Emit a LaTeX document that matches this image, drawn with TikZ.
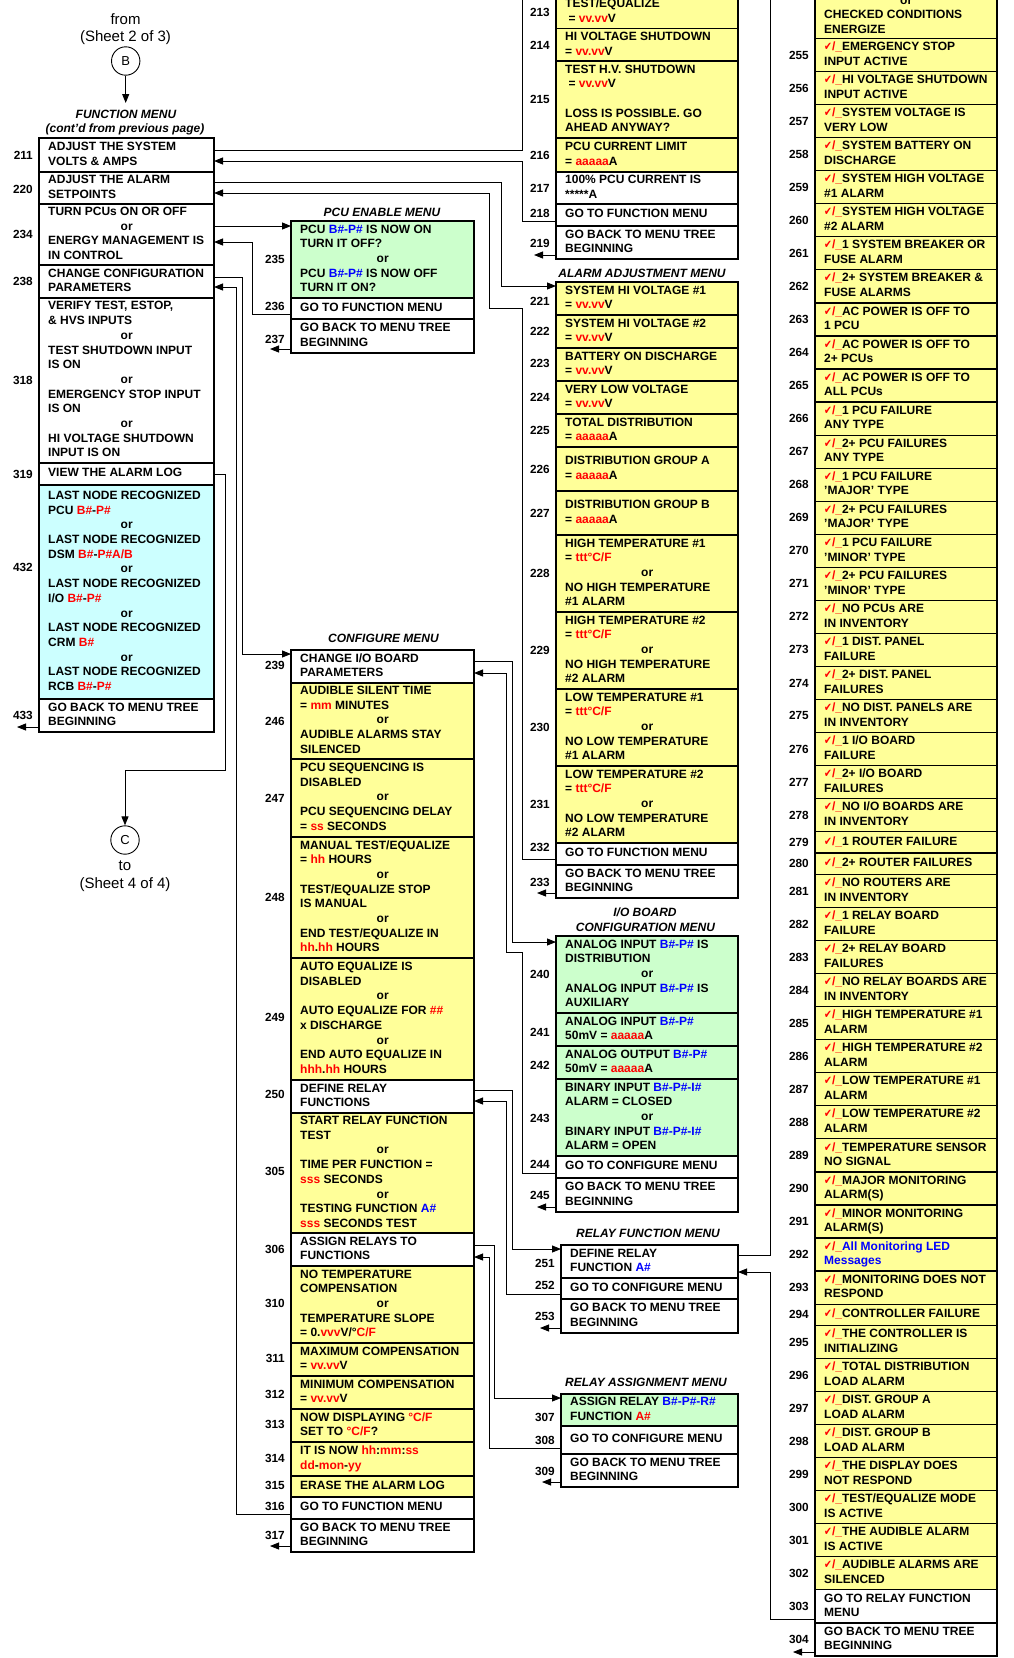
\documentclass[tikz,border=0pt]{standalone}
\usepackage{fontspec}
\setmainfont{Liberation Sans}
\newfontfamily\ckfam{DejaVu Sans}
\usetikzlibrary{arrows.meta}
\definecolor{ylw}{RGB}{255,255,153}
\definecolor{grn}{RGB}{204,255,204}
\definecolor{cyn}{RGB}{204,255,255}
\definecolor{txred}{RGB}{255,0,0}
\definecolor{txblue}{RGB}{0,0,255}
\newlength\orw
\newcommand\orl{\makebox[\orw][c]{or}}
\newcommand\txr[1]{\textcolor{txred}{#1}}
\newcommand\txb[1]{\textcolor{txblue}{#1}}
\newcommand\ck{{\color{txred}\scalebox{0.85}[1.05]{\ckfam\bfseries\fontsize{11}{14.7}\selectfont\char"2714}/\_}}
\newcommand\txtfont{\bfseries\fontsize{12}{14.7}\selectfont}
\newcommand\lblfont{\bfseries\fontsize{11.8}{14}\selectfont}
\newcommand\ttlfont{\bfseries\itshape\fontsize{12}{14}\selectfont}
\newcommand\shtfont{\fontsize{15}{18}\selectfont}
\tikzset{
  rowbox/.style={draw=black, line width=1.15pt, inner sep=0pt, outer sep=0pt},
  rowtxt/.style={anchor=west, align=left, inner sep=0pt, font=\txtfont},
  lbl/.style={anchor=east, inner sep=0pt, font=\lblfont},
  ttl/.style={anchor=base, inner sep=0pt, font=\ttlfont},
  sht/.style={anchor=base, inner sep=0pt, font=\shtfont},
  conn/.style={draw=black, line width=0.9pt},
  arr/.style={conn, -{Triangle[length=9pt,width=7pt]}},
  sheetcirc/.style={circle, draw=black, line width=0.9pt, minimum size=28.4pt, inner sep=0pt, font=\fontsize{13}{14}\selectfont},
}
% \mrow{name}{x1}{y1}{x2}{y2}{fill}{label}{label y}{text}
\newcommand\mrow[9]{%
  \setlength\orw{\dimexpr #4pt-#2pt-18pt\relax}%
  \node[rowbox, fill=#6, minimum width={(#4)-(#2)}, minimum height={(#5)-(#3)}, anchor=north west] (#1) at (#2,#3) {};
  \node[rowtxt] (#1t) at ({#2+9},{((#3)+(#5))/2}) {\strut #9\strut};
  \node[lbl] (#1n) at ({#2-6},{#8}) {#7};
}
\newcommand\rrow[4]{\mrow{r#1}{815}{#2}{997}{#3}{ylw}{#1}{((#2)+(#3))/2}{\ck#4}}
\begin{document}
\begin{tikzpicture}[x=1pt,y=-1pt]
\useasboundingbox (0,0) rectangle (1013,1658);
\clip (0,0) rectangle (1013,1658);
\fill[white] (0,0) rectangle (1013,1658);

% ---------- sheet references and titles ----------
\coordinate (fmtop) at (125.7,103);
\node[sheetcirc] (cB) at (125.7,61) {B};
\node[sheetcirc] (cC) at (125,840) {C};
\node[sht] (from) at (125.5,24.5) {from};
\node[sht] (sh2) at (125.5,41.5) {(Sheet 2 of 3)};
\node[sht] (to) at (125,870.5) {to};
\node[sht] (sh4) at (125,888.5) {(Sheet 4 of 4)};
\draw[arr] (cB.south) -- (fmtop);

\node[ttl] (tfm) at (126,118.3) {FUNCTION MENU};
\node[ttl] (tfm2) at (125,132) {(cont'd from previous page)};
\node[ttl] (tpcu) at (382,216) {PCU ENABLE MENU};
\node[ttl] (tcfg) at (383.5,642.7) {CONFIGURE MENU};
\node[ttl] (talm) at (642,277) {ALARM ADJUSTMENT MENU};
\node[ttl] (tio1) at (645,916.7) {I/O BOARD};
\node[ttl] (tio2) at (645.5,931) {CONFIGURATION MENU};
\node[ttl] (trf) at (648,1237) {RELAY FUNCTION MENU};
\node[ttl] (tra) at (646,1386) {RELAY ASSIGNMENT MENU};

% ---------- column 1: function menu ----------
\mrow{r211}{39}{138}{214}{172}{white}{211}{155}{ADJUST THE SYSTEM\\VOLTS \& AMPS}
\mrow{r220}{39}{172}{214}{204}{white}{220}{189}{ADJUST THE ALARM\\SETPOINTS}
\mrow{r234}{39}{204}{214}{265}{white}{234}{234}{TURN PCUs ON OR OFF\\\orl\\ENERGY MANAGEMENT IS\\IN CONTROL}
\mrow{r238}{39}{265}{214}{298}{white}{238}{281}{CHANGE CONFIGURATION\\PARAMETERS}
\mrow{r318}{39}{298}{214}{463}{white}{318}{380}{VERIFY TEST, ESTOP,\\\& HVS INPUTS\\\orl\\TEST SHUTDOWN INPUT\\IS ON\\\orl\\EMERGENCY STOP INPUT\\IS ON\\\orl\\HI VOLTAGE SHUTDOWN\\INPUT IS ON}
\mrow{r319}{39}{463}{214}{485}{white}{319}{474}{VIEW THE ALARM LOG}
\mrow{r432}{39}{485}{214}{699}{cyn}{432}{567}{LAST NODE RECOGNIZED\\PCU \txr{B\#}-\txr{P\#}\\\orl\\LAST NODE RECOGNIZED\\DSM \txr{B\#}-\txr{P\#A/B}\\\orl\\LAST NODE RECOGNIZED\\I/O \txr{B\#}-\txr{P\#}\\\orl\\LAST NODE RECOGNIZED\\CRM \txr{B\#}\\\orl\\LAST NODE RECOGNIZED\\RCB \txr{B\#}-\txr{P\#}}
\mrow{r433}{39}{699}{214}{732}{white}{433}{715}{GO BACK TO MENU TREE\\BEGINNING}

% ---------- column 2: PCU enable / configure ----------
\mrow{r235}{291}{221}{474}{298}{grn}{235}{259}{PCU \txb{B\#-P\#} IS NOW ON\\TURN IT OFF?\\\orl\\PCU \txb{B\#-P\#} IS NOW OFF\\TURN IT ON?}
\mrow{r236}{291}{298}{474}{319}{white}{236}{306}{GO TO FUNCTION MENU}
\mrow{r237}{291}{319}{474}{353}{white}{237}{339}{GO BACK TO MENU TREE\\BEGINNING}

\mrow{r239}{291}{650}{474}{683}{white}{239}{665}{CHANGE I/O BOARD\\PARAMETERS}
\mrow{r246}{291}{683}{474}{759}{ylw}{246}{721}{AUDIBLE SILENT TIME\\= \txr{mm} MINUTES\\\orl\\AUDIBLE ALARMS STAY\\SILENCED}
\mrow{r247}{291}{759}{474}{837}{ylw}{247}{798}{PCU SEQUENCING IS\\DISABLED\\\orl\\PCU SEQUENCING DELAY\\= \txr{ss} SECONDS}
\mrow{r248}{291}{837}{474}{958}{ylw}{248}{897}{MANUAL TEST/EQUALIZE\\= \txr{hh} HOURS\\\orl\\TEST/EQUALIZE STOP\\IS MANUAL\\\orl\\END TEST/EQUALIZE IN\\\txr{hh}.\txr{hh} HOURS}
\mrow{r249}{291}{958}{474}{1080}{ylw}{249}{1017}{AUTO EQUALIZE IS\\DISABLED\\\orl\\AUTO EQUALIZE FOR \txr{\#\#}\\x DISCHARGE\\\orl\\END AUTO EQUALIZE IN\\\txr{hhh}.\txr{hh} HOURS}
\mrow{r250}{291}{1080}{474}{1113}{white}{250}{1094}{DEFINE RELAY\\FUNCTIONS}
\mrow{r305}{291}{1113}{474}{1233}{ylw}{305}{1171}{START RELAY FUNCTION\\TEST\\\orl\\TIME PER FUNCTION =\\\txr{sss} SECONDS\\\orl\\TESTING FUNCTION \txb{A\#}\\\txr{sss} SECONDS TEST}
\mrow{r306}{291}{1233}{474}{1266}{white}{306}{1249}{ASSIGN RELAYS TO\\FUNCTIONS}
\mrow{r310}{291}{1266}{474}{1343}{ylw}{310}{1303}{NO TEMPERATURE\\COMPENSATION\\\orl\\TEMPERATURE SLOPE\\= 0.\txr{vvv}V/°\txr{C/F}}
\mrow{r311}{291}{1343}{474}{1376}{ylw}{311}{1358}{MAXIMUM COMPENSATION\\= \txr{vv.vv}V}
\mrow{r312}{291}{1376}{474}{1409}{ylw}{312}{1394}{MINIMUM COMPENSATION\\= \txr{vv.vv}V}
\mrow{r313}{291}{1409}{474}{1442}{ylw}{313}{1424}{NOW DISPLAYING \txr{°C/F}\\SET TO \txr{°C/F}?}
\mrow{r314}{291}{1442}{474}{1476}{ylw}{314}{1458}{IT IS NOW \txr{hh}:\txr{mm}:\txr{ss}\\\txr{dd}-\txr{mon}-\txr{yy}}
\mrow{r315}{291}{1476}{474}{1497}{ylw}{315}{1485}{ERASE THE ALARM LOG}
\mrow{r316}{291}{1497}{474}{1519}{white}{316}{1506}{GO TO FUNCTION MENU}
\mrow{r317}{291}{1519}{474}{1552}{white}{317}{1535}{GO BACK TO MENU TREE\\BEGINNING}

% ---------- column 3 ----------
\mrow{r213}{556}{-4.4}{738}{28.6}{ylw}{213}{12}{TEST/EQUALIZE\\\hspace{3.3pt}= \txr{vv.vv}V}
\mrow{r214}{556}{28.6}{738}{61}{ylw}{214}{45}{HI VOLTAGE SHUTDOWN\\= \txr{vv.vv}V}
\mrow{r215}{556}{61}{738}{138}{ylw}{215}{99}{TEST H.V. SHUTDOWN\\\hspace{3.3pt}= \txr{vv.vv}V\\~\\LOSS IS POSSIBLE. GO\\AHEAD ANYWAY?}
\mrow{r216}{556}{138}{738}{172}{ylw}{216}{155}{PCU CURRENT LIMIT\\= \txr{aaaaa}A}
\mrow{r217}{556}{172}{738}{204}{white}{217}{188}{100\% PCU CURRENT IS\\*****A}
\mrow{r218}{556}{204}{738}{226}{white}{218}{213}{GO TO FUNCTION MENU}
\mrow{r219}{556}{226}{738}{259}{white}{219}{243}{GO BACK TO MENU TREE\\BEGINNING}

\mrow{r221}{556}{282}{738}{315}{ylw}{221}{301}{SYSTEM HI VOLTAGE \#1\\= \txr{vv.vv}V}
\mrow{r222}{556}{315}{738}{348}{ylw}{222}{331}{SYSTEM HI VOLTAGE \#2\\= \txr{vv.vv}V}
\mrow{r223}{556}{348}{738}{381}{ylw}{223}{363}{BATTERY ON DISCHARGE\\= \txr{vv.vv}V}
\mrow{r224}{556}{381}{738}{414}{ylw}{224}{397}{VERY LOW VOLTAGE\\= \txr{vv.vv}V}
\mrow{r225}{556}{414}{738}{447}{ylw}{225}{430}{TOTAL DISTRIBUTION\\= \txr{aaaaa}A}
\mrow{r226}{556}{447}{738}{491}{ylw}{226}{469}{DISTRIBUTION GROUP A\\= \txr{aaaaa}A}
\mrow{r227}{556}{491}{738}{535}{ylw}{227}{513}{DISTRIBUTION GROUP B\\= \txr{aaaaa}A}
\mrow{r228}{556}{535}{738}{612}{ylw}{228}{573}{HIGH TEMPERATURE \#1\\= \txr{ttt°C/F}\\\orl\\NO HIGH TEMPERATURE\\\#1 ALARM}
\mrow{r229}{556}{612}{738}{689}{ylw}{229}{650}{HIGH TEMPERATURE \#2\\= \txr{ttt°C/F}\\\orl\\NO HIGH TEMPERATURE\\\#2 ALARM}
\mrow{r230}{556}{689}{738}{766}{ylw}{230}{727}{LOW TEMPERATURE \#1\\= \txr{ttt°C/F}\\\orl\\NO LOW TEMPERATURE\\\#1 ALARM}
\mrow{r231}{556}{766}{738}{843}{ylw}{231}{804}{LOW TEMPERATURE \#2\\= \txr{ttt°C/F}\\\orl\\NO LOW TEMPERATURE\\\#2 ALARM}
\mrow{r232}{556}{843}{738}{865}{white}{232}{847}{GO TO FUNCTION MENU}
\mrow{r233}{556}{865}{738}{898}{white}{233}{882}{GO BACK TO MENU TREE\\BEGINNING}

\mrow{r240}{556}{936}{738}{1013}{grn}{240}{974}{ANALOG INPUT \txb{B\#-P\#} IS\\DISTRIBUTION\\\orl\\ANALOG INPUT \txb{B\#-P\#} IS\\AUXILIARY}
\mrow{r241}{556}{1013}{738}{1046}{grn}{241}{1032}{ANALOG INPUT \txb{B\#-P\#}\\50mV = \txr{aaaaa}A}
\mrow{r242}{556}{1046}{738}{1079}{grn}{242}{1065}{ANALOG OUTPUT \txb{B\#-P\#}\\50mV = \txr{aaaaa}A}
\mrow{r243}{556}{1079}{738}{1156}{grn}{243}{1118}{BINARY INPUT \txb{B\#-P\#-I\#}\\ALARM = CLOSED\\\orl\\BINARY INPUT \txb{B\#-P\#-I\#}\\ALARM = OPEN}
\mrow{r244}{556}{1156}{738}{1178}{white}{244}{1164}{GO TO CONFIGURE MENU}
\mrow{r245}{556}{1178}{738}{1212}{white}{245}{1195}{GO BACK TO MENU TREE\\BEGINNING}

\mrow{r251}{561}{1245}{738}{1278}{white}{251}{1263}{DEFINE RELAY\\FUNCTION \txb{A\#}}
\mrow{r252}{561}{1278}{738}{1299}{white}{252}{1285}{GO TO CONFIGURE MENU}
\mrow{r253}{561}{1299}{738}{1333}{white}{253}{1316}{GO BACK TO MENU TREE\\BEGINNING}

\mrow{r307}{561}{1394}{738}{1426}{grn}{307}{1417}{ASSIGN RELAY \txb{B\#-P\#-R\#}\\FUNCTION \txr{A\#}}
\mrow{r308}{561}{1426}{738}{1454}{white}{308}{1440}{GO TO CONFIGURE MENU}
\mrow{r309}{561}{1454}{738}{1487}{white}{309}{1471}{GO BACK TO MENU TREE\\BEGINNING}

% ---------- column 4 ----------
\mrow{rtop}{815}{-6.8}{997}{38.6}{ylw}{}{10}{\orl\\CHECKED CONDITIONS\\ENERGIZE}
\rrow{255}{38.60}{71.64}{EMERGENCY STOP\\INPUT ACTIVE}
\rrow{256}{71.64}{104.68}{HI VOLTAGE SHUTDOWN\\INPUT ACTIVE}
\rrow{257}{104.68}{137.72}{SYSTEM VOLTAGE IS\\VERY LOW}
\rrow{258}{137.72}{170.76}{SYSTEM BATTERY ON\\DISCHARGE}
\rrow{259}{170.76}{203.80}{SYSTEM HIGH VOLTAGE\\\#1 ALARM}
\rrow{260}{203.80}{236.84}{SYSTEM HIGH VOLTAGE\\\#2 ALARM}
\rrow{261}{236.84}{269.88}{1 SYSTEM BREAKER OR\\FUSE ALARM}
\rrow{262}{269.88}{302.92}{2+ SYSTEM BREAKER \&\\FUSE ALARMS}
\rrow{263}{302.92}{335.96}{AC POWER IS OFF TO\\1 PCU}
\rrow{264}{335.96}{369.00}{AC POWER IS OFF TO\\2+ PCUs}
\rrow{265}{369.00}{402.04}{AC POWER IS OFF TO\\ALL PCUs}
\rrow{266}{402.04}{435.08}{1 PCU FAILURE\\ANY TYPE}
\rrow{267}{435.08}{468.12}{2+ PCU FAILURES\\ANY TYPE}
\rrow{268}{468.12}{501.16}{1 PCU FAILURE\\'MAJOR' TYPE}
\rrow{269}{501.16}{534.20}{2+ PCU FAILURES\\'MAJOR' TYPE}
\rrow{270}{534.20}{567.24}{1 PCU FAILURE\\'MINOR' TYPE}
\rrow{271}{567.24}{600.28}{2+ PCU FAILURES\\'MINOR' TYPE}
\rrow{272}{600.28}{633.32}{NO PCUs ARE\\IN INVENTORY}
\rrow{273}{633.32}{666.36}{1 DIST. PANEL\\FAILURE}
\rrow{274}{666.36}{699.40}{2+ DIST. PANEL\\FAILURES}
\rrow{275}{699.40}{732.44}{NO DIST. PANELS ARE\\IN INVENTORY}
\rrow{276}{732.44}{765.48}{1 I/O BOARD\\FAILURE}
\rrow{277}{765.48}{798.52}{2+ I/O BOARD\\FAILURES}
\rrow{278}{798.52}{831.56}{NO I/O BOARDS ARE\\IN INVENTORY}
\rrow{279}{831.56}{853.06}{1 ROUTER FAILURE}
\rrow{280}{853.06}{874.56}{2+ ROUTER FAILURES}
\rrow{281}{874.56}{907.60}{NO ROUTERS ARE\\IN INVENTORY}
\rrow{282}{907.60}{940.64}{1 RELAY BOARD\\FAILURE}
\rrow{283}{940.64}{973.68}{2+ RELAY BOARD\\FAILURES}
\rrow{284}{973.68}{1006.72}{NO RELAY BOARDS ARE\\IN INVENTORY}
\rrow{285}{1006.72}{1039.76}{HIGH TEMPERATURE \#1\\ALARM}
\rrow{286}{1039.76}{1072.80}{HIGH TEMPERATURE \#2\\ALARM}
\rrow{287}{1072.80}{1105.84}{LOW TEMPERATURE \#1\\ALARM}
\rrow{288}{1105.84}{1138.88}{LOW TEMPERATURE \#2\\ALARM}
\rrow{289}{1138.88}{1171.92}{TEMPERATURE SENSOR\\NO SIGNAL}
\rrow{290}{1171.92}{1204.96}{MAJOR MONITORING\\ALARM(S)}
\rrow{291}{1204.96}{1238.00}{MINOR MONITORING\\ALARM(S)}
\rrow{292}{1238.00}{1271.04}{\txb{All Monitoring LED}\\\txb{Messages}}
\rrow{293}{1271.04}{1304.08}{MONITORING DOES NOT\\RESPOND}
\rrow{294}{1304.08}{1325.58}{CONTROLLER FAILURE}
\rrow{295}{1325.58}{1358.62}{THE CONTROLLER IS\\INITIALIZING}
\rrow{296}{1358.62}{1391.66}{TOTAL DISTRIBUTION\\LOAD ALARM}
\rrow{297}{1391.66}{1424.70}{DIST. GROUP A\\LOAD ALARM}
\rrow{298}{1424.70}{1457.74}{DIST. GROUP B\\LOAD ALARM}
\rrow{299}{1457.74}{1490.78}{THE DISPLAY DOES\\NOT RESPOND}
\rrow{300}{1490.78}{1523.82}{TEST/EQUALIZE MODE\\IS ACTIVE}
\rrow{301}{1523.82}{1556.86}{THE AUDIBLE ALARM\\IS ACTIVE}
\rrow{302}{1556.86}{1589.90}{AUDIBLE ALARMS ARE\\SILENCED}
\mrow{r303}{815}{1589.90}{997}{1622.94}{white}{303}{1606.4}{GO TO RELAY FUNCTION\\MENU}
\mrow{r304}{815}{1622.94}{997}{1655.98}{white}{304}{1639.5}{GO BACK TO MENU TREE\\BEGINNING}

% ---------- connectors ----------
\draw[conn] (r211.east |- 0,150) -| (522,-10);
\draw[arr] (r218.west |- 0,221) -| (522,161) -- (r211.east |- 0,161);
\draw[arr] (r220.east |- 0,182) -| (501,286) -- (r221.west |- 0,286);
\draw[arr] (r232.west |- 0,859) -| (522,308) -| (489,193) -- (r220.east |- 0,193);
\draw[arr] (r234.east |- 0,226) -- (r235.west |- 0,226);
\draw[arr] (r236.west |- 0,314) -| (252,242) -- (r234.east |- 0,242);
\draw[arr] (r237.west |- 0,349) -- ++(-21,0);
\draw[arr] (r238.east |- 0,277) -| (242,654) -- (r239.west |- 0,654);
\draw[arr] (r316.west |- 0,1514) -| (236,287) -- (r238.east |- 0,287);
\draw[arr] (r319.east |- 0,474) -| (225,770) -| (cC.north);
\draw[arr] (r433.west |- 0,727) -- ++(-22,0);
\draw[arr] (r219.west |- 0,255) -- ++(-22,0);
\draw[arr] (r233.west |- 0,893) -- ++(-19,0);
\draw[arr] (r239.east |- 0,661) -| (512,942) -- (r240.west |- 0,942);
\draw[arr] (r244.west |- 0,1173) -| (522,952) -| (506,673) -- (r239.east |- 0,673);
\draw[arr] (r245.west |- 0,1207) -- ++(-19,0);
\draw[arr] (r250.east |- 0,1090) -| (512,1249) -- (r251.west |- 0,1249);
\draw[arr] (r252.west |- 0,1294) -| (506,1101) -- (r250.east |- 0,1101);
\draw[arr] (r253.west |- 0,1328) -- ++(-21,0);
\draw[arr] (r306.east |- 0,1245) -| (494,1398) -- (r307.west |- 0,1398);
\draw[arr] (r308.west |- 0,1448) -| (489,1257) -- (r306.east |- 0,1257);
\draw[arr] (r309.west |- 0,1482) -- ++(-19,0);
\draw[arr] (r317.west |- 0,1546) -- ++(-21,0);
\draw[conn] (r251.east |- 0,1255) -| (770,-10);
\draw[arr] (r303.west |- 0,1619) -| (770,1272) -- (r251.east |- 0,1272);
\draw[arr] (r304.west |- 0,1652) -- ++(-22,0);
\end{tikzpicture}
\end{document}
